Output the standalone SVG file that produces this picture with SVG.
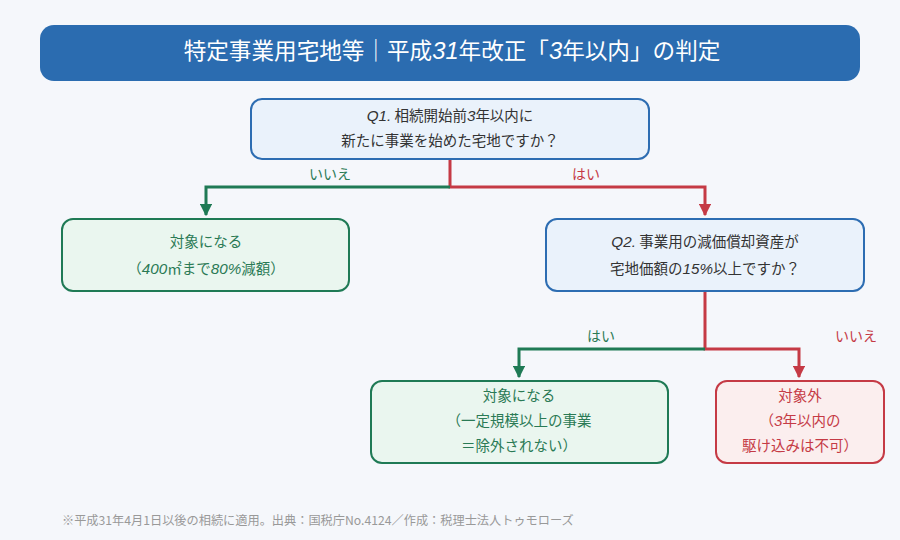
<svg xmlns="http://www.w3.org/2000/svg" width="900" height="540" viewBox="0 0 900 540">
<defs>
<marker id="ag" viewBox="0 0 10 10" refX="9" refY="5" markerWidth="4.2" markerHeight="4.2" orient="auto" markerUnits="strokeWidth"><path d="M0,0 L10,5 L0,10 z" fill="#1f7a55"/></marker>
<marker id="ar" viewBox="0 0 10 10" refX="9" refY="5" markerWidth="4.2" markerHeight="4.2" orient="auto" markerUnits="strokeWidth"><path d="M0,0 L10,5 L0,10 z" fill="#c53a45"/></marker>
</defs>
<style>
text{font-family:"Noto Sans CJK JP","Noto Sans",sans-serif;text-anchor:middle}
.q rect{fill:#eaf2fb;stroke:#2d6db2;stroke-width:2}
.q text{fill:#333;font-size:14.5px}
.g rect{fill:#eaf6ef;stroke:#1f7a55;stroke-width:2}
.g text{fill:#2a7a55;font-size:14.5px}
.r rect{fill:#fbeeee;stroke:#c53a45;stroke-width:2}
.r text{fill:#c53a45;font-size:14.5px}
.i{font-style:italic;font-family:"Liberation Sans","Noto Sans CJK JP",sans-serif;font-size:1.05em}
.lg{stroke:#1f7a55;stroke-width:3;fill:none}
.lr{stroke:#c53a45;stroke-width:3;fill:none}
.lbg{fill:#2a7a55;font-size:14px}
.lbr{fill:#c53a45;font-size:14px}
</style>
<rect width="900" height="540" fill="#f5f7fb"/>
<g id="title">
<rect x="40" y="25" width="820" height="56" rx="14" fill="#2b6cb0"/>
<text x="452" y="59" fill="#fff" font-size="22.6">特定事業用宅地等｜平成<tspan class="i">31</tspan>年改正「<tspan class="i">3</tspan>年以内」の判定</text>
</g>
<g id="connectors">
<path class="lr" d="M450,159 V187 H705 V215" marker-end="url(#ar)"/>
<path class="lg" d="M450,187 H206 V215" marker-end="url(#ag)"/>
<path class="lr" d="M705,291 V349 H799 V377" marker-end="url(#ar)"/>
<path class="lg" d="M705,349 H519 V377" marker-end="url(#ag)"/>
<text class="lbg" x="330" y="179">いいえ</text>
<text class="lbr" x="586" y="179">はい</text>
<text class="lbg" x="601" y="341">はい</text>
<text class="lbr" x="856" y="341">いいえ</text>
</g>
<g id="q1" class="q">
<rect x="251" y="99" width="398" height="60" rx="11"/>
<text x="450" y="121"><tspan class="i">Q1.</tspan> 相続開始前<tspan class="i">3</tspan>年以内に</text>
<text x="450" y="146">新たに事業を始めた宅地ですか？</text>
</g>
<g id="yes1" class="g">
<rect x="62" y="219" width="287" height="72" rx="11"/>
<text x="206" y="247">対象になる</text>
<text x="206" y="274">（<tspan class="i">400</tspan>㎡まで<tspan class="i">80%</tspan>減額）</text>
</g>
<g id="q2" class="q">
<rect x="546" y="219" width="318" height="72" rx="11"/>
<text x="705" y="247"><tspan class="i">Q2.</tspan> 事業用の減価償却資産が</text>
<text x="705" y="274">宅地価額の<tspan class="i">15%</tspan>以上ですか？</text>
</g>
<g id="yes2" class="g">
<rect x="371" y="381" width="297" height="82" rx="11"/>
<text x="519" y="401">対象になる</text>
<text x="519" y="426">（一定規模以上の事業</text>
<text x="519" y="451">＝除外されない）</text>
</g>
<g id="no2" class="r">
<rect x="716" y="381" width="168" height="82" rx="11"/>
<text x="800" y="401">対象外</text>
<text x="800" y="426">（<tspan class="i">3</tspan>年以内の</text>
<text x="800" y="451">駆け込みは不可）</text>
</g>
<g id="footnote">
<text x="62" y="525" fill="#999" font-size="12.2" style="text-anchor:start">※平成31年4月1日以後の相続に適用。出典：国税庁No.4124／作成：税理士法人トゥモローズ</text>
</g>
</svg>
